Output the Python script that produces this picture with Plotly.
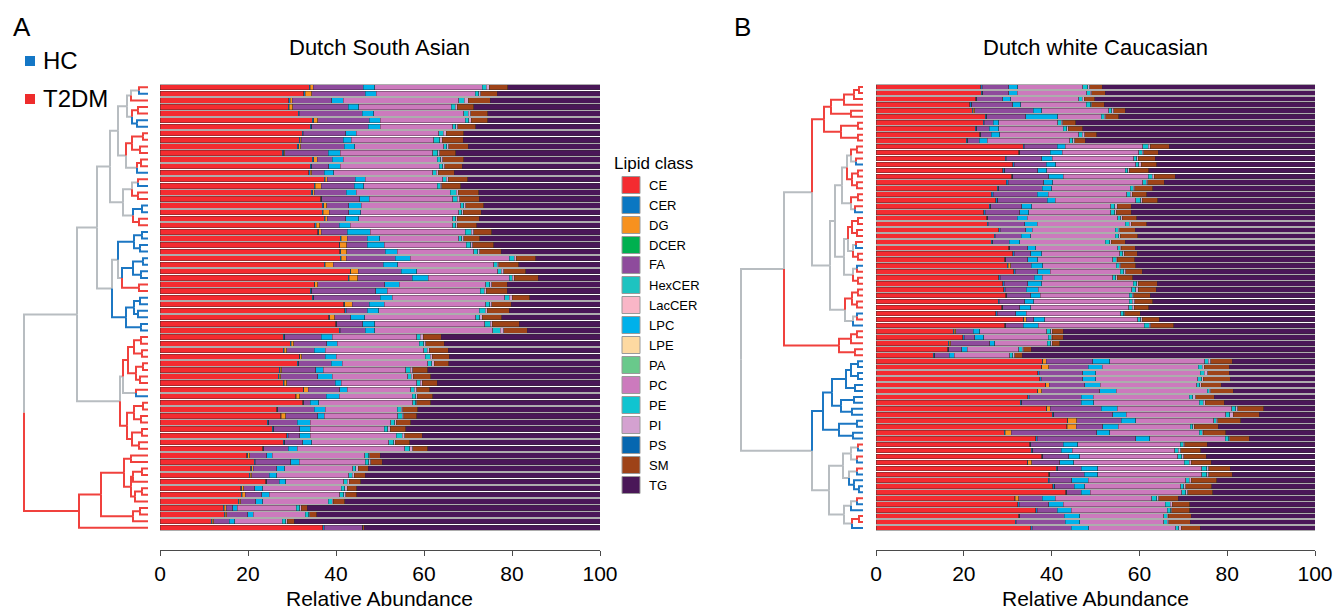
import plotly.graph_objects as go

W, H = 1337, 610
FONT = "Liberation Sans, Arial, Helvetica, sans-serif"

# ---------------- lipid classes ----------------
CLASS_NAMES = ["CE", "CER", "DG", "DCER", "FA", "HexCER", "LacCER", "LPC",
               "LPE", "PA", "PC", "PE", "PI", "PS", "SM", "TG"]
CLASS_COLORS = {"CE": "#F42B30", "CER": "#0A77C2", "DG": "#F7911E", "DCER": "#00B04F",
                "FA": "#8E4B9C", "HexCER": "#1DC3C0", "LacCER": "#F9B6C7", "LPC": "#00B1EA",
                "LPE": "#FDD9A1", "PA": "#69C98B", "PC": "#CC7ABD", "PE": "#10C4D0",
                "PI": "#D4A1D0", "PS": "#0667B0", "SM": "#9E4318", "TG": "#4A1758"}
TICKS = [0, 20, 40, 60, 80, 100]

# ---------------- Panel A : Dutch South Asian (rows top -> bottom) ----------------
A_CE = [33.9, 32.7, 29.3, 29.1, 31.4, 34.6, 34.2, 32.3, 31.6, 31.2,
        27.8, 34.6, 34.2, 33.8, 37.3, 35.0, 34.4, 36.5, 36.9, 36.9,
        37.3, 35.2, 35.8, 41.0, 40.7, 40.9, 41.0, 37.3, 43.2, 42.8,
        35.0, 34.2, 34.6, 41.8, 42.0, 38.4, 39.9, 40.7, 28.0, 29.6,
        28.0, 31.6, 31.2, 27.1, 26.9, 28.0, 32.5, 30.8, 32.4, 26.5,
        27.4, 24.4, 25.5, 28.8, 28.0, 23.3, 19.7, 21.4, 20.6, 20.3,
        24.0, 18.4, 18.5, 17.8, 14.4, 14.6, 11.7, 37.0]
A_CER = [0.3, 0.3, 0.3, 0.3, 0.3, 0.3, 0.3, 0.3, 0.3, 0.3,
         0.3, 0.3, 0.3, 0.3, 0.3, 0.3, 0.3, 0.3, 0.3, 0.2,
         0.2, 0.3, 0.3, 0.2, 0.2, 0.2, 0.2, 0.2, 0.2, 0.2,
         0.2, 0.3, 0.3, 0.2, 0.3, 0.2, 0.3, 0.3, 0.3, 0.2,
         0.2, 0.2, 0.3, 0.2, 0.2, 0.2, 0.2, 0.2, 0.3, 0.3,
         0.2, 0.3, 0.3, 0.3, 0.3, 0.3, 0.2, 0.3, 0.2, 0.2,
         0.3, 0.2, 0.2, 0.2, 0.2, 0.2, 0.2, 0.3]
A_DG = [0.6, 1.5, 0.4, 0.8, 0.0, 1.0, 0.0, 0.0, 0.2, 0.5,
        0.3, 0.8, 0.0, 0.4, 0.4, 1.4, 0.4, 0.0, 0.7, 1.4,
        0.5, 0.8, 0.6, 1.4, 1.5, 1.3, 1.1, 1.9, 1.7, 1.9,
        0.6, 0.0, 0.0, 1.7, 0.0, 1.1, 0.0, 0.0, 0.0, 0.6,
        0.6, 0.4, 0.0, 0.4, 0.3, 0.6, 1.0, 0.8, 0.0, 0.0,
        1.0, 0.0, 0.0, 0.0, 0.0, 0.0, 0.5, 0.0, 0.4, 0.3,
        0.0, 0.4, 0.7, 0.4, 0.5, 0.4, 0.3, 0.0]
A_FA = [11.4, 12.1, 9.0, 12.6, 14.3, 11.6, 12.8, 9.6, 9.5, 9.9,
        9.8, 3.5, 3.9, 2.8, 6.4, 7.4, 7.2, 8.6, 5.0, 4.4,
        4.2, 4.4, 5.9, 4.5, 4.7, 8.8, 11.2, 11.3, 9.7, 12.4,
        15.3, 14.5, 15.2, 3.8, 4.8, 3.6, 5.9, 5.7, 8.4, 7.5,
        6.2, 5.4, 7.4, 7.7, 8.5, 11.0, 7.2, 6.0, 1.5, 8.2,
        7.3, 6.5, 6.0, 2.7, 4.1, 5.5, 3.9, 8.0, 5.3, 4.0,
        2.8, 2.5, 3.7, 3.4, 1.4, 4.7, 3.5, 8.8]
A_LPC = [2.6, 2.6, 2.6, 2.4, 2.6, 2.6, 2.7, 2.4, 1.9, 2.4,
         2.8, 2.4, 2.6, 2.2, 2.2, 2.2, 2.3, 2.2, 2.8, 2.7,
         3.0, 2.5, 5.2, 2.8, 3.9, 2.7, 3.4, 3.3, 3.5, 3.7,
         3.3, 2.6, 2.7, 3.5, 2.6, 3.2, 2.7, 2.1, 2.5, 2.4,
         2.6, 2.5, 2.5, 1.7, 3.3, 1.4, 1.7, 2.9, 1.9, 2.5,
         1.4, 2.9, 2.3, 2.4, 2.1, 2.1, 1.2, 2.0, 1.8, 1.7,
         1.5, 1.9, 1.7, 1.6, 1.1, 1.3, 1.3, 0.0]
A_PC = [24.4, 22.4, 26.3, 21.0, 20.4, 19.3, 16.5, 18.7, 18.7, 20.2,
        21.0, 21.4, 22.5, 22.5, 17.7, 16.7, 21.4, 18.9, 22.6, 22.3,
        21.3, 23.3, 21.6, 18.0, 18.6, 17.4, 22.5, 21.8, 18.5, 18.4,
        19.6, 21.2, 25.5, 23.0, 22.9, 25.3, 25.0, 26.8, 19.2, 18.6,
        22.3, 20.2, 19.4, 18.8, 17.1, 17.1, 14.4, 16.6, 21.3, 16.4,
        16.7, 18.3, 16.9, 19.5, 17.5, 24.4, 21.0, 15.0, 15.5, 16.4,
        13.2, 17.8, 16.1, 14.8, 13.4, 11.8, 10.8, 0.0]
A_PE = [1.0, 0.8, 1.2, 0.9, 1.0, 0.8, 0.7, 1.1, 1.4, 0.7,
        1.1, 0.8, 0.8, 0.8, 0.7, 0.7, 1.3, 1.1, 0.7, 0.7,
        0.7, 0.7, 1.3, 0.7, 1.0, 0.9, 1.1, 0.8, 0.8, 0.7,
        0.9, 0.9, 1.1, 0.9, 1.3, 0.9, 1.2, 1.7, 0.8, 1.0,
        0.8, 1.1, 1.0, 1.0, 0.8, 0.8, 0.8, 0.8, 0.7, 0.9,
        1.0, 0.9, 0.8, 1.4, 1.1, 1.2, 0.9, 0.7, 0.7, 0.8,
        0.7, 0.8, 0.9, 0.9, 0.8, 0.8, 0.8, 0.0]
A_PI = [0.6, 0.5, 0.9, 0.4, 0.6, 0.5, 0.5, 0.6, 0.5, 0.4,
        0.5, 0.5, 0.4, 0.4, 0.5, 0.3, 0.5, 0.5, 0.5, 0.3,
        0.3, 0.4, 0.6, 0.4, 0.5, 0.5, 0.5, 0.4, 0.5, 0.4,
        0.5, 0.5, 0.6, 0.5, 0.5, 0.5, 0.5, 0.8, 0.6, 0.5,
        0.5, 0.5, 0.5, 0.5, 0.5, 0.5, 0.5, 0.4, 0.3, 0.4,
        0.4, 0.4, 0.5, 0.5, 0.4, 0.6, 0.3, 0.5, 0.5, 0.4,
        0.5, 0.5, 0.4, 0.3, 0.3, 0.2, 0.3, 0.0]
A_SM = [4.2, 3.8, 5.0, 3.8, 3.9, 3.8, 4.1, 4.0, 4.8, 4.4,
        3.6, 4.7, 4.0, 3.7, 4.4, 4.3, 4.6, 4.5, 4.1, 4.1,
        5.1, 4.4, 4.1, 3.7, 4.7, 4.9, 4.4, 4.5, 5.0, 5.5,
        3.5, 4.7, 4.0, 4.4, 5.0, 4.5, 6.2, 5.4, 4.1, 4.2,
        4.3, 3.8, 3.3, 3.5, 3.9, 3.4, 3.0, 3.5, 3.1, 3.4,
        3.0, 3.3, 3.5, 4.0, 3.3, 3.5, 2.4, 2.6, 2.3, 2.6,
        2.6, 2.2, 2.5, 2.6, 1.4, 1.6, 1.6, 0.3]
A_TG = [21.0, 23.3, 25.0, 28.7, 25.5, 25.5, 28.2, 31.0, 31.1, 30.0,
        32.8, 31.0, 31.3, 33.1, 30.1, 31.7, 27.6, 27.4, 26.4, 27.0,
        27.4, 28.0, 24.6, 27.3, 24.2, 22.4, 14.6, 18.5, 16.9, 14.0,
        21.1, 21.1, 16.0, 20.2, 20.6, 22.3, 18.3, 16.5, 36.1, 35.4,
        34.5, 34.3, 34.4, 39.1, 38.5, 37.0, 38.7, 38.0, 38.5, 41.4,
        41.6, 43.0, 44.2, 40.4, 43.2, 39.1, 49.9, 49.5, 52.7, 53.3,
        54.4, 55.3, 55.3, 58.0, 66.5, 64.4, 69.5, 53.6]
# sample group per row: T = T2DM, H = HC
A_GROUP = ("THTTTHHTTTTTTHTHTTHHTTHHHHHHHHTTHHHHHH"
           "TTTTTTTTTHTTTTTTTTTTTTTTTTTTTT")
# hierarchical clustering (left, right, linkage height); leaves = row numbers
A_TREE = (
    (
        (
            (
                ((((1, 2, 0.9), 3, 1.7), ((4, 5, 1.0), (6, 7, 1.1), 1.6), 2.1),
                 (((8, 9, 0.5), (10, 11, 0.8), 1.6), ((12, 13, 0.7), 14, 1.1), 2.2), 3.0),
                (((15, 16, 1.0), (17, 18, 1.0), 1.6), ((19, 20, 0.6), (21, 22, 0.9), 1.5), 2.5),
                3.8),
            (
                (((23, 24, 0.6), (25, 26, 0.8), 1.4),
                 (((27, 28, 0.5), (29, 30, 0.7), 1.5), (31, 32, 0.9), 2.6), 3.0),
                (((33, 34, 0.8), (35, 36, 1.0), 1.4), (37, 38, 0.7), 2.2),
                3.6),
            5.1),
        (
            ((((39, 40, 0.7), (41, 42, 0.6), 1.4), ((43, 44, 0.5), (45, 46, 0.8), 1.2), 2.0),
             (47, 48, 1.2), 2.5),
            (((49, 50, 0.5), (51, 52, 0.7), 1.4), ((53, 54, 0.6), (55, 56, 0.9), 1.6), 2.1),
            2.8),
        7.1),
    (
        (((57, 58, 1.7), (((59, 60, 0.6), 61, 1.5), ((62, 63, 0.6), 64, 1.3), 1.7), 2.4),
         ((65, 66, 0.8), 67, 1.5), 4.7),
        68, 6.9),
    12.4)

# ---------------- Panel B : Dutch white Caucasian ----------------
B_CE = [23.9, 24.0, 22.7, 21.4, 21.9, 24.9, 24.4, 22.6, 23.6, 20.6,
        33.5, 32.5, 29.4, 31.2, 28.9, 30.9, 29.7, 27.6, 26.3, 27.3,
        25.8, 24.6, 25.2, 25.3, 28.0, 26.9, 26.3, 30.2, 31.2, 29.3,
        29.9, 31.4, 28.0, 28.9, 29.1, 29.5, 27.8, 28.6, 27.3, 33.5,
        29.3, 17.6, 19.8, 16.5, 16.3, 13.0, 37.9, 37.7, 36.9, 37.3,
        38.6, 36.7, 34.6, 32.9, 38.8, 40.2, 43.6, 43.5, 29.2, 36.4,
        35.0, 35.4, 37.7, 34.4, 41.1, 39.3, 39.2, 40.3, 43.2, 31.6,
        32.3, 36.4, 32.5, 31.7, 35.3]
B_CER = [0.3, 0.3, 0.3, 0.4, 0.2, 0.3, 0.3, 0.3, 0.3, 0.3,
         0.3, 0.3, 0.3, 0.3, 0.4, 0.3, 0.4, 0.4, 0.4, 0.4,
         0.3, 0.3, 0.3, 0.3, 0.3, 0.3, 0.3, 0.3, 0.3, 0.3,
         0.2, 0.3, 0.3, 0.3, 0.3, 0.3, 0.3, 0.3, 0.3, 0.2,
         0.3, 0.2, 0.3, 0.2, 0.3, 0.4, 0.1, 0.1, 0.3, 0.3,
         0.1, 0.2, 0.3, 0.3, 0.1, 0.3, 0.1, 0.1, 0.2, 0.3,
         0.3, 0.3, 0.3, 0.2, 0.3, 0.3, 0.3, 0.4, 0.3, 0.1,
         0.3, 0.3, 0.3, 0.3, 0.3]
B_DG = [0.0, 0.0, 0.0, 0.0, 0.4, 0.0, 0.0, 0.0, 0.0, 0.0,
        0.0, 0.0, 0.0, 0.0, 0.0, 0.0, 0.0, 0.0, 0.0, 0.0,
        0.0, 0.0, 0.0, 0.0, 0.0, 0.0, 0.0, 0.0, 0.0, 0.0,
        0.6, 0.0, 0.0, 0.0, 0.0, 0.0, 0.0, 0.0, 0.0, 0.5,
        0.0, 0.4, 0.0, 0.3, 0.0, 0.0, 0.8, 1.6, 0.0, 0.0,
        0.8, 0.8, 0.0, 0.0, 0.8, 0.0, 2.0, 2.0, 1.4, 0.0,
        0.0, 0.0, 0.0, 0.9, 0.0, 0.0, 0.0, 0.0, 0.0, 0.8,
        0.0, 0.0, 0.0, 0.0, 0.0]
B_FA = [6.0, 5.9, 5.9, 9.3, 13.3, 8.9, 2.0, 2.9, 2.4, 2.6,
        7.5, 6.9, 8.0, 7.3, 7.6, 8.2, 8.1, 9.9, 10.0, 11.3,
        7.1, 7.8, 6.7, 8.3, 5.8, 5.9, 3.7, 4.1, 3.8, 5.0,
        4.7, 5.2, 7.8, 5.4, 4.8, 5.4, 5.8, 3.8, 4.2, 1.7,
        3.9, 3.9, 2.4, 8.9, 2.9, 3.3, 10.6, 9.0, 9.9, 9.5,
        8.0, 13.3, 11.8, 13.5, 11.6, 13.4, 10.2, 6.1, 19.5, 22.5,
        7.3, 6.5, 5.9, 6.4, 5.3, 7.8, 5.1, 4.5, 3.2, 5.4,
        6.8, 4.6, 10.1, 11.1, 8.9]
B_LPC = [2.1, 2.0, 1.8, 1.9, 1.9, 7.3, 1.3, 2.2, 1.9, 1.8,
         1.8, 2.7, 2.5, 2.1, 2.0, 3.2, 2.1, 2.1, 2.5, 1.8,
         2.3, 2.1, 2.2, 2.8, 1.5, 2.1, 2.4, 1.8, 2.4, 2.3,
         2.6, 2.8, 1.8, 3.1, 2.8, 2.2, 2.0, 2.5, 2.4, 2.5,
         3.5, 1.5, 2.1, 1.1, 1.3, 1.1, 3.9, 3.1, 2.9, 2.9,
         3.6, 3.7, 2.8, 2.9, 3.6, 3.1, 3.3, 3.5, 3.0, 3.1,
         3.4, 2.5, 2.5, 3.1, 3.8, 3.1, 3.7, 2.3, 2.1, 2.9,
         3.2, 3.2, 3.5, 3.3, 4.0]
B_PC = [14.8, 15.8, 15.5, 14.9, 15.3, 9.9, 13.4, 14.6, 18.0, 18.8,
        17.7, 17.4, 18.5, 18.3, 17.9, 19.4, 20.5, 17.9, 17.9, 18.4,
        18.0, 18.7, 20.7, 20.1, 18.9, 19.3, 19.5, 18.7, 17.8, 17.0,
        16.7, 15.9, 16.0, 20.9, 21.3, 20.3, 21.8, 22.4, 21.5, 21.2,
        24.1, 15.3, 14.6, 12.0, 11.7, 12.7, 21.6, 21.9, 23.9, 23.3,
        22.0, 20.7, 21.9, 24.0, 26.1, 22.7, 17.7, 16.4, 20.3, 17.2,
        23.3, 23.3, 22.3, 25.2, 23.7, 23.7, 22.3, 21.9, 20.9, 22.0,
        23.3, 21.8, 19.2, 19.1, 19.8]
B_PE = [1.1, 0.8, 0.8, 1.0, 0.7, 0.7, 0.8, 0.8, 0.8, 0.7,
        1.2, 0.8, 0.7, 0.7, 0.6, 0.9, 0.8, 0.7, 0.8, 1.1,
        0.9, 0.9, 0.6, 0.9, 0.7, 0.8, 1.1, 0.5, 0.7, 0.8,
        0.7, 0.8, 0.7, 0.8, 0.9, 0.7, 0.7, 0.8, 0.7, 0.7,
        1.1, 0.9, 0.7, 0.8, 0.8, 0.7, 0.8, 0.9, 0.9, 0.9,
        0.7, 0.5, 0.7, 0.9, 0.9, 0.9, 0.6, 0.6, 0.7, 0.8,
        0.7, 0.9, 0.9, 1.1, 1.1, 1.1, 0.8, 0.7, 0.8, 1.2,
        1.1, 0.8, 0.7, 0.8, 0.7]
B_PI = [0.5, 0.3, 0.4, 0.3, 0.4, 0.3, 0.3, 0.4, 0.5, 0.5,
        0.5, 0.4, 0.3, 0.5, 0.3, 0.5, 0.3, 0.3, 0.5, 0.3,
        0.5, 0.3, 0.4, 0.4, 0.3, 0.3, 0.3, 0.3, 0.3, 0.3,
        0.3, 0.5, 0.3, 0.3, 0.5, 0.3, 0.5, 0.4, 0.3, 0.3,
        0.4, 0.3, 0.3, 0.3, 0.3, 0.4, 0.5, 0.5, 0.8, 0.3,
        0.3, 0.3, 0.7, 0.5, 0.5, 0.8, 0.4, 0.3, 0.3, 0.3,
        0.3, 0.5, 0.5, 0.5, 0.5, 0.5, 0.4, 0.5, 0.5, 0.4,
        0.5, 0.3, 0.3, 0.4, 0.5]
B_SM = [2.8, 3.1, 2.4, 2.8, 2.7, 3.0, 3.0, 3.3, 2.8, 2.4,
        4.3, 3.3, 3.9, 3.5, 4.4, 4.8, 3.8, 4.1, 3.3, 3.6,
        3.2, 3.4, 3.3, 3.6, 3.6, 4.0, 3.2, 3.2, 3.0, 3.9,
        3.5, 3.7, 3.6, 4.4, 4.1, 3.8, 4.1, 3.3, 3.5, 3.9,
        5.2, 2.5, 2.5, 1.7, 1.8, 1.7, 5.0, 5.7, 4.9, 6.2,
        4.5, 5.2, 4.2, 4.3, 5.9, 5.9, 5.2, 5.5, 5.1, 4.4,
        5.2, 4.6, 5.1, 4.6, 4.9, 5.4, 5.8, 5.9, 5.7, 4.5,
        4.0, 4.1, 5.2, 4.9, 4.4]
B_TG = [48.5, 47.8, 50.2, 48.0, 43.2, 44.7, 54.5, 52.9, 49.7, 52.3,
        33.2, 35.7, 36.4, 36.1, 37.9, 31.8, 34.3, 37.0, 38.3, 35.8,
        41.9, 41.9, 40.6, 38.3, 40.9, 40.4, 43.2, 40.9, 40.5, 41.1,
        40.8, 39.4, 41.5, 35.9, 36.2, 37.5, 37.0, 37.9, 39.8, 35.5,
        32.2, 57.4, 57.3, 58.2, 64.6, 66.7, 18.8, 19.5, 19.5, 19.3,
        21.4, 18.6, 23.0, 20.7, 11.7, 12.7, 16.9, 22.0, 20.3, 15.0,
        24.5, 26.0, 24.8, 23.6, 19.3, 18.8, 22.4, 23.5, 23.3, 31.1,
        28.5, 28.5, 28.2, 28.4, 26.1]
B_GROUP = ("TTTTTTTTTTTTTHTTTTTTTHTTTTTHTTHTTTTTTTHTH"
           "TTTTTHHHHHHHHHHHHHHTHTHTHHHHTHHTTH")
B_TREE = (
    (
        (
            (((((1, 2, 0.4), 3, 0.9), 4, 1.9), (5, 6, 1.2), 3.2),
             ((7, 8, 0.5), (9, 10, 0.5), 2.2), 3.9),
            (
                (
                    ((((11, 12, 0.6), (13, 14, 0.7), 1.2), ((15, 16, 0.5), (17, 18, 0.6), 1.1), 1.6),
                     ((19, 20, 0.5), (21, 22, 0.8), 1.2), 2.1),
                    ((((23, 24, 0.5), (25, 26, 0.6), 1.1), ((27, 28, 0.7), (29, 30, 0.5), 1.0), 1.5),
                     ((31, 32, 0.6), (33, 34, 0.5), 1.0), 1.9),
                    2.8),
                (((35, 36, 0.5), (37, 38, 0.6), 1.1), ((39, 40, 0.6), 41, 1.0), 1.8),
                3.3),
            5.1),
        (((42, 43, 0.6), 44, 1.2), (45, 46, 0.8), 2.4),
        7.9),
    (
        (((((47, 48, 0.5), (49, 50, 0.5), 1.2), (51, 52, 0.8), 1.7),
          ((53, 54, 0.9), (55, 56, 1.1), 2.2), 3.1),
         ((57, 58, 0.6), (59, 60, 1.0), 2.4), 4.0),
        ((((61, 62, 0.5), (63, 64, 0.6), 1.2), ((65, 66, 0.6), (67, (68, 69, 0.4), 0.9), 1.4), 2.0),
         (((70, 71, 0.6), 72, 1.2), ((73, 74, 0.4), 75, 1.1), 1.9), 3.4),
        5.1),
    12.2)

PANELS = [
    dict(title="Dutch South Asian",
         data={"CE": A_CE, "CER": A_CER, "DG": A_DG, "FA": A_FA, "LPC": A_LPC,
               "PC": A_PC, "PE": A_PE, "PI": A_PI, "SM": A_SM, "TG": A_TG},
         group=A_GROUP, tree=A_TREE, bx=(160, 600), dx=(23, 148),
         xa="x", ya="y", xd="x3", label="A", label_x=11),
    dict(title="Dutch white Caucasian",
         data={"CE": B_CE, "CER": B_CER, "DG": B_DG, "FA": B_FA, "LPC": B_LPC,
               "PC": B_PC, "PE": B_PE, "PI": B_PI, "SM": B_SM, "TG": B_TG},
         group=B_GROUP, tree=B_TREE, bx=(876, 1315), dx=(740, 863),
         xa="x2", ya="y2", xd="x4", label="B", label_x=732),
]

DENDRO_COLORS = {"T": "#F0413D", "H": "#1C77C3", "M": "#B8BDC1"}
GROUP_COLORS = {"HC": "#1477C6", "T2DM": "#EE2C2C"}

BAR_TOP, BAR_BOTTOM, AXIS_Y = 84, 531, 550


def px_x(p):
    return p / W


def px_y(p):
    return 1 - p / H


def dendro_paths(tree, groups):
    paths = {k: ([], []) for k in DENDRO_COLORS}

    def walk(node):
        if isinstance(node, int):
            return float(node), 0.0, groups[node - 1]
        left, right, h = node
        kids = [walk(left), walk(right)]
        ymid = (kids[0][0] + kids[1][0]) / 2.0
        for yc, hc, cc in kids:
            xs, ys = paths[cc]
            xs += [hc, h, h, None]
            ys += [yc, yc, ymid, None]
        col = kids[0][2] if kids[0][2] == kids[1][2] else "M"
        return ymid, h, col

    _, root_h, _ = walk(tree)
    return paths, root_h


fig = go.Figure()
layout_axes = {}
annotations = []
shapes = []

for k, P in enumerate(PANELS):
    n = len(P["data"]["CE"])
    rows = list(range(1, n + 1))
    for cls in CLASS_NAMES:
        if cls not in P["data"]:
            continue
        fig.add_trace(go.Bar(
            x=P["data"][cls], y=rows, orientation="h", name=cls,
            marker=dict(color=CLASS_COLORS[cls], line=dict(color="rgba(45,45,45,0.65)", width=0.6)),
            width=0.8, xaxis=P["xa"], yaxis=P["ya"], showlegend=False, hoverinfo="skip"))
    paths, root_h = dendro_paths(P["tree"], P["group"])
    for key in ["M", "H", "T"]:
        xs, ys = paths[key]
        if not xs:
            continue
        fig.add_trace(go.Scatter(
            x=xs, y=ys, mode="lines", line=dict(color=DENDRO_COLORS[key], width=2),
            xaxis=P["xd"], yaxis=P["ya"], showlegend=False, hoverinfo="skip"))

    sfx = "" if k == 0 else "2"
    dsfx = "3" if k == 0 else "4"
    layout_axes["xaxis" + sfx] = dict(
        domain=[px_x(P["bx"][0]), px_x(P["bx"][1])], range=[0, 100],
        anchor="free", position=px_y(AXIS_Y), showline=True, linecolor="#4a4a4a", linewidth=1,
        ticks="outside", ticklen=5, tickwidth=1, tickcolor="#4a4a4a",
        tickvals=TICKS, ticktext=[str(t) for t in TICKS],
        tickfont=dict(size=21, color="black", family=FONT), automargin=False,
        showgrid=False, zeroline=False, fixedrange=True)
    layout_axes["yaxis" + sfx] = dict(
        domain=[px_y(BAR_BOTTOM), px_y(BAR_TOP)], range=[n + 0.5, 0.5],
        visible=False, anchor=P["xa"], fixedrange=True, automargin=False)
    layout_axes["xaxis" + dsfx] = dict(
        domain=[px_x(P["dx"][0]), px_x(P["dx"][1])], range=[root_h + 0.1, 0],
        visible=False, anchor=P["ya"], fixedrange=True, automargin=False)

    cx = (P["bx"][0] + P["bx"][1]) / 2
    annotations.append(dict(text=P["title"], x=px_x(cx), y=px_y(47), xref="paper", yref="paper",
                            xanchor="center", yanchor="middle", showarrow=False,
                            font=dict(size=22, color="black", family=FONT)))
    annotations.append(dict(text="Relative Abundance", x=px_x(cx), y=px_y(598), xref="paper",
                            yref="paper", xanchor="center", yanchor="middle", showarrow=False,
                            font=dict(size=21, color="black", family=FONT)))
    annotations.append(dict(text=P["label"], x=px_x(P["label_x"]), y=px_y(27), xref="paper",
                            yref="paper", xanchor="left", yanchor="middle", showarrow=False,
                            font=dict(size=26, color="black", family=FONT)))

# group legend (HC / T2DM)
for name, yc in [("HC", 61), ("T2DM", 99)]:
    shapes.append(dict(type="rect", xref="paper", yref="paper",
                       x0=px_x(25), x1=px_x(35), y0=px_y(yc - 5), y1=px_y(yc + 5),
                       fillcolor=GROUP_COLORS[name], line=dict(width=0)))
    annotations.append(dict(text=name, x=px_x(41), y=px_y(yc), xref="paper", yref="paper",
                            xanchor="left", yanchor="middle", showarrow=False,
                            font=dict(size=24, color="black", family=FONT)))

# lipid class legend
annotations.append(dict(text="Lipid class", x=px_x(612), y=px_y(163), xref="paper", yref="paper",
                        xanchor="left", yanchor="middle", showarrow=False,
                        font=dict(size=17, color="black", family=FONT)))
for i, cls in enumerate(CLASS_NAMES):
    yc = 185 + 20 * i
    shapes.append(dict(type="rect", xref="paper", yref="paper",
                       x0=px_x(622), x1=px_x(640), y0=px_y(yc + 8.5), y1=px_y(yc - 8.5),
                       fillcolor=CLASS_COLORS[cls], line=dict(color="#9a9a9a", width=1)))
    annotations.append(dict(text=cls, x=px_x(647), y=px_y(yc), xref="paper", yref="paper",
                            xanchor="left", yanchor="middle", showarrow=False,
                            font=dict(size=13, color="black", family=FONT)))

fig.update_layout(
    width=W, height=H, autosize=False,
    margin=dict(l=0, r=0, t=0, b=0, pad=0, autoexpand=False),
    paper_bgcolor="white", plot_bgcolor="white",
    barmode="stack", bargap=0.2, showlegend=False,
    font=dict(family=FONT, color="black"),
    annotations=annotations, shapes=shapes,
    **layout_axes)

fig.write_html(
    "out.html",
    config={"displayModeBar": False, "responsive": False},
    post_script="document.documentElement.style.margin='0';document.body.style.margin='0';"
                "document.body.style.padding='0';document.body.style.overflow='hidden';")
